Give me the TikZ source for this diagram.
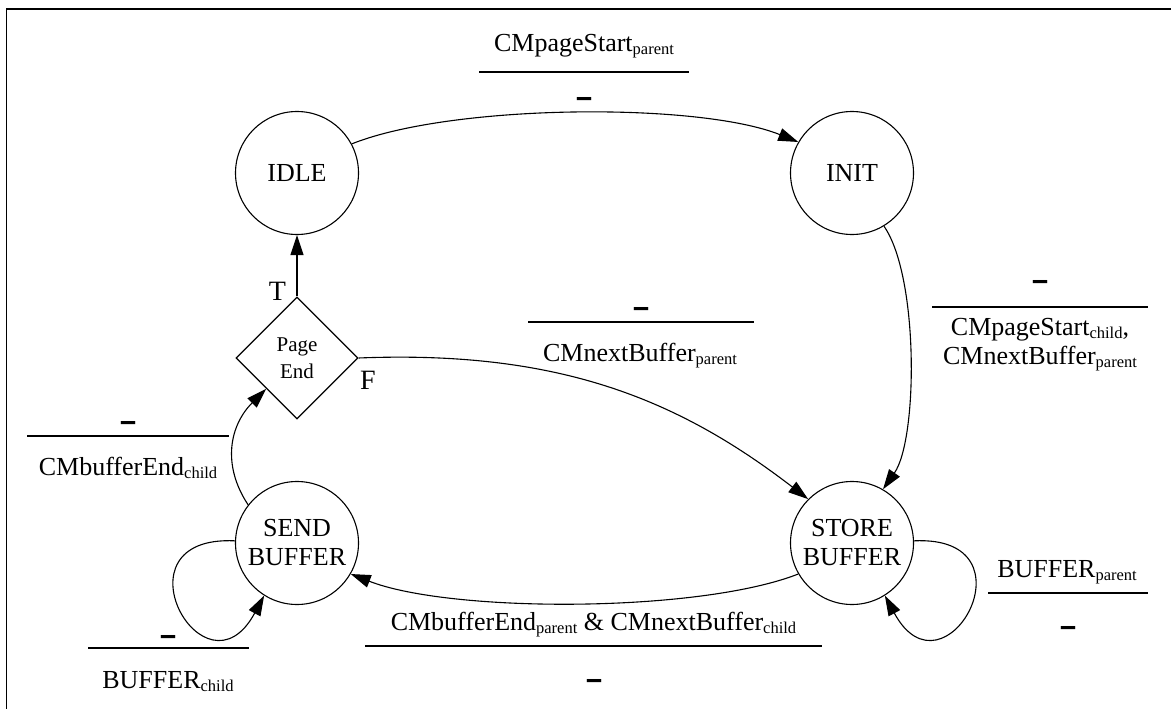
\documentclass[tikz,border=0pt]{standalone}
\usepackage{fontspec}
\setmainfont{Liberation Serif}
\usetikzlibrary{shapes.geometric,arrows.meta}
% lowered small index after a signal name
\newcommand\lo[1]{\raisebox{-3pt}{\fontsize{16.5}{16.5}\selectfont #1}}
% "no action" bar
\newcommand\nilbar{\scalebox{1}[1.6]{\bfseries –}}

\begin{document}
\begin{tikzpicture}[x=1pt,y=-1pt,
  state/.style={circle,draw,line width=1.1pt,minimum size=123pt,inner sep=0pt,
    font=\fontsize{26}{29}\selectfont,align=center},
  test/.style={diamond,draw,line width=1.1pt,minimum width=122pt,minimum height=122pt,
    inner sep=0pt,font=\fontsize{21}{26.7}\selectfont,align=center},
  trans/.style={line width=1.1pt,-{Triangle[length=20pt,width=13pt]}},
  lbl/.style={anchor=base,inner sep=0pt,font=\fontsize{26}{29}\selectfont},
  branch/.style={anchor=base,inner sep=0pt,font=\fontsize{28}{28}\selectfont},
  nilmark/.style={anchor=base,inner sep=0pt,font=\fontsize{28}{28}\selectfont},
  bar/.style={line width=1.1pt}]
\useasboundingbox (0,0) rectangle (1171,709);

% frame
\draw[line width=1.2pt] (6.5,709) -- (6.5,9) -- (1171,9);

% states
\node[state] (idle)  at (297,173) {IDLE};
\node[state] (init)  at (852,173) {INIT};
\node[state] (send)  at (297,543) {SEND\\BUFFER};
\node[state] (store) at (852,543) {STORE\\BUFFER};
\node[test]  (pe)    at (297,358) {Page\\End};

% transitions
\draw[trans] (idle.28) .. controls +(100,-40) and +(-100,-40) .. (init.150);
\draw[trans] (init.-59) .. controls +(35,50) and +(35,-50) .. (store.60);
\draw[trans] (pe.north) -- (idle.south);
\draw[trans] (pe.east) .. controls +(200,-8) and +(-130,-100) .. (store.135);
\draw[trans] (send.142) .. controls +(-26.5,-40) and +(-36.5,36.5) .. (pe.south west);
\draw[trans] (store.210) .. controls +(-100,39) and +(100,39) .. (send.-30);
\draw[trans] (send.178) .. controls +(-125.5,-6) and +(-59.4,110) .. (send.-122);
\draw[trans] (store.2) .. controls +(125.5,-6) and +(59.4,110) .. (store.-58);

% branch outcomes
\node[branch] (tT) at (277.5,300) {T};
\node[branch] (tF) at (368,389) {F};

% IDLE -> INIT
\node[lbl] (c1) at (584,52) {CMpageStart\lo{parent}};
\draw[bar] (479,72) -- (689,72);
\node[nilmark] (a1) at (584,110) {\nilbar};

% INIT -> STORE BUFFER
\node[nilmark] (a2) at (1040,292) {\nilbar};
\draw[bar] (932,307) -- (1148,307);
\node[lbl] (c2a) at (1040,335) {CMpageStart\lo{child},};
\node[lbl] (c2b) at (1040,364) {CMnextBuffer\lo{parent}};

% Page End (F) -> STORE BUFFER
\node[nilmark] (a3) at (641,319) {\nilbar};
\draw[bar] (528,322) -- (754,322);
\node[lbl] (c3) at (640,361) {CMnextBuffer\lo{parent}};

% SEND BUFFER -> Page End
\node[nilmark] (a4) at (128,433) {\nilbar};
\draw[bar] (27,436) -- (229,436);
\node[lbl] (c4) at (128,475) {CMbufferEnd\lo{child}};

% SEND BUFFER loop
\node[nilmark] (a5) at (168,647) {\nilbar};
\draw[bar] (88,648) -- (249,648);
\node[lbl] (c5) at (168,688) {BUFFER\lo{child}};

% STORE BUFFER -> SEND BUFFER
\node[lbl] (c6) at (593.5,630) {CMbufferEnd\lo{parent} \& CMnextBuffer\lo{child}};
\draw[bar] (365,646) -- (822,646);
\node[nilmark] (a6) at (594,691) {\nilbar};

% STORE BUFFER loop
\node[lbl] (c7) at (1067,577) {BUFFER\lo{parent}};
\draw[bar] (988,593) -- (1148,593);
\node[nilmark] (a7) at (1068,638) {\nilbar};
\end{tikzpicture}
\end{document}
